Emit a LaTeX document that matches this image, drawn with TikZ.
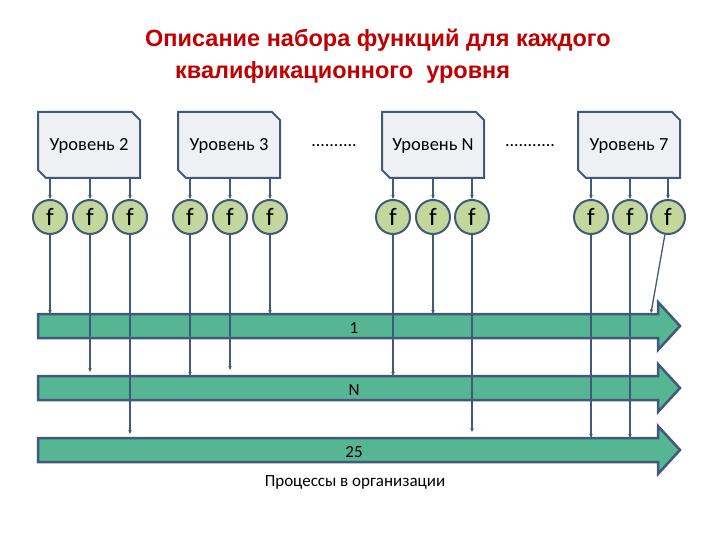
\documentclass[tikz,border=0pt]{standalone}
\usepackage{fontspec}
\setmainfont{Carlito}
\newfontfamily\titlefont{Liberation Sans}
\usetikzlibrary{arrows.meta}
\definecolor{edge}{HTML}{41597A}
\definecolor{boxfill}{HTML}{EEF0F4}
\definecolor{ffill}{HTML}{C3D69B}
\definecolor{band}{HTML}{56B593}
\definecolor{ttl}{HTML}{C00000}
\tikzset{
 fcirc/.style={circle,draw=edge,line width=2pt,fill=ffill,minimum size=34pt,inner sep=0pt,font=\fontsize{25}{25}\selectfont},
 conn/.style={draw=edge,line width=1.3pt,-{Stealth[length=4pt,width=3.5pt]}},
 lvl/.style={draw=edge,line width=2pt,fill=boxfill},
 bandst/.style={draw=edge,line width=2.5pt,fill=band},
 ttlst/.style={font=\titlefont\bfseries\fontsize{23.5}{26}\selectfont,text=ttl,anchor=west,inner sep=0pt}
}
\begin{document}
\begin{tikzpicture}[x=1pt,y=-1pt]
\useasboundingbox (0,0) rectangle (720,540);
\node[ttlst] (title1) at (145,40) {Описание набора функций для каждого};
\node[ttlst] (title2) at (175,72) {квалификационного\ \ уровня};
% level boxes
\foreach \n/\x/\t in {b2/38/Уровень 2, b3/178/Уровень 3, bN/382/Уровень N, b7/578/Уровень 7}{
 \draw[lvl] (\x,112) -- (\x+94,112) -- (\x+102,120) -- (\x+102,178) -- (\x+8,178) -- (\x,170) -- cycle;
 \node[font=\fontsize{18.5}{20}\selectfont] (\n) at (\x+51,146) {\t};
}
\node[font=\fontsize{18}{20}\selectfont] (d1) at (334,146) {..........};
\node[font=\fontsize{18}{20}\selectfont] (d2) at (530,146) {...........};
% bands
\foreach \n/\y/\l in {r1/326/1, rN/388/N, r3/450/25}{
 \draw[bandst] (38,\y-12) -- (658,\y-12) -- (658,\y-24) -- (680,\y) -- (658,\y+24) -- (658,\y+12) -- (38,\y+12) -- cycle;
 \node[font=\fontsize{17}{18}\selectfont] (\n) at (354,\y+2) {\l};
}
\node[font=\fontsize{17}{18}\selectfont] (cap) at (355,482) {Процессы\ в\ организации};
% f circles and connectors
\foreach \n/\x/\ye in {a/50/314, b/90/372, c/130/434, d/190/376, e/230/370, f/270/314, g/393/376, h/433/314, i/472/432, j/591/438, k/630/438}{
 \node[fcirc] (\n) at (\x,217) {f};
 \draw[conn] (\x,178) -- (\n);
 \coordinate (\n e) at (\x,\ye);
 \draw[conn] (\n) -- (\n e);
}
\node[fcirc] (l) at (668,217) {f};
\draw[conn] (668,178) -- (l);
\coordinate (le) at (651,313);
\draw[conn] (l) -- (le);
\end{tikzpicture}
\end{document}
